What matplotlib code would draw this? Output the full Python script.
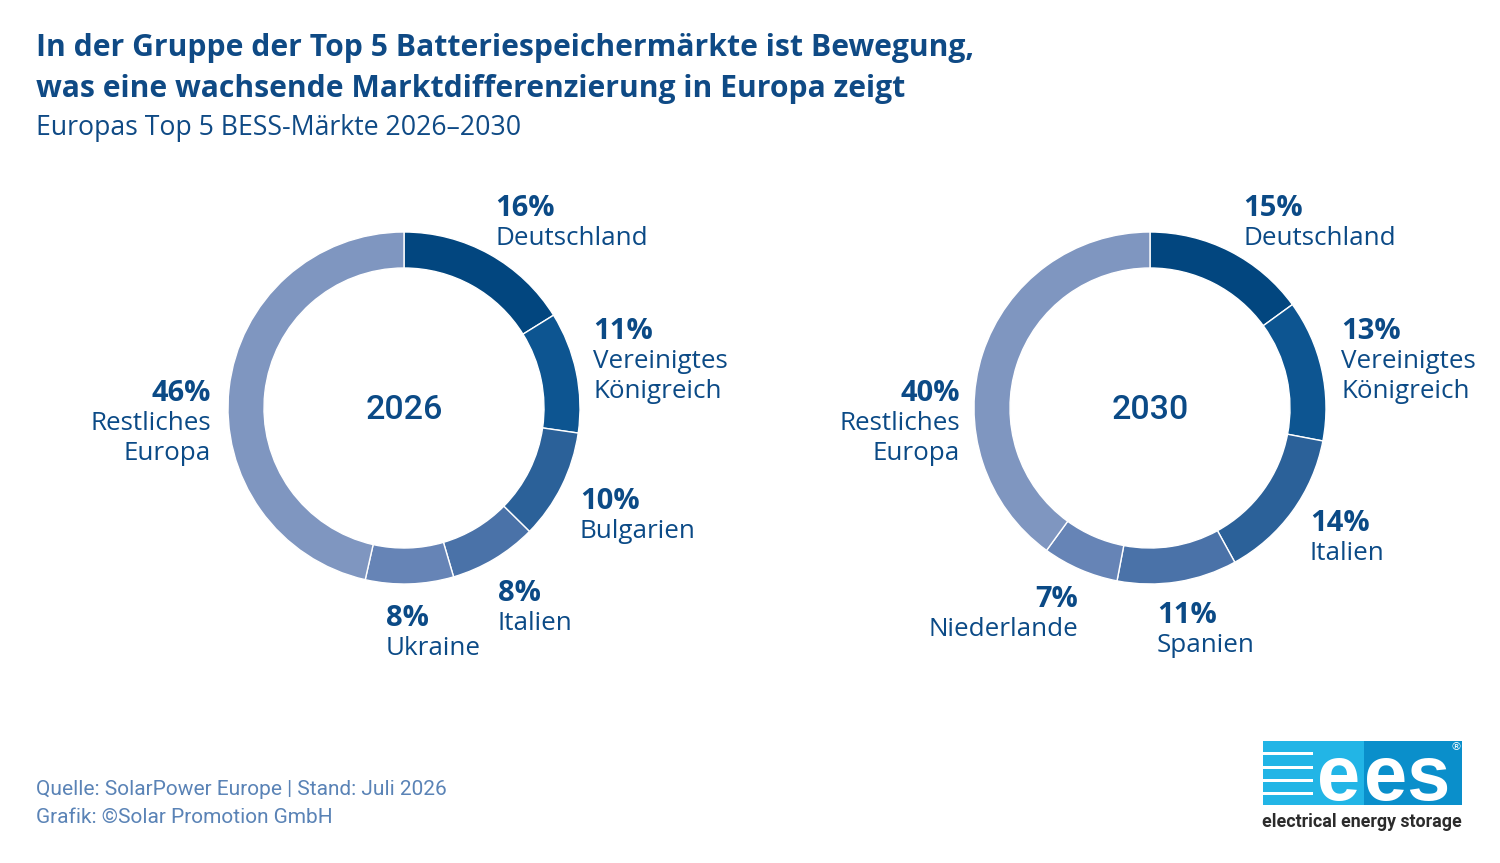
import matplotlib
matplotlib.use("Agg")
import matplotlib.pyplot as plt
from matplotlib.patches import Rectangle

# ---------------- data ----------------
markets_2026 = ["Deutschland", "Vereinigtes\nKönigreich", "Bulgarien", "Italien", "Ukraine", "Restliches\nEuropa"]
shares_2026 = [16, 11, 10, 8, 8, 46]
markets_2030 = ["Deutschland", "Vereinigtes\nKönigreich", "Italien", "Spanien", "Niederlande", "Restliches\nEuropa"]
shares_2030 = [15, 13, 14, 11, 7, 40]
years = ["2026", "2030"]

title_lines = ["In der Gruppe der Top 5 Batteriespeichermärkte ist Bewegung,",
               "was eine wachsende Marktdifferenzierung in Europa zeigt"]
subtitle = "Europas Top 5 BESS-Märkte 2026–2030"
footer_lines = ["Quelle: SolarPower Europe | Stand: Juli 2026",
                "Grafik: ©Solar Promotion GmbH"]

# ---------------- style ----------------
W, H = 1500, 863
seg_colors = ["#02467f", "#0d5591", "#2b6199", "#4a72a8", "#6684b6", "#7f96c0"]
txt_color = "#0b4a86"
title_color = "#0f4a85"
foot_color = "#5a83b6"
FONT = "Open Sans"

# label anchor positions in pixels (x, y-center of percent line, ha)
label_pos_2026 = [(495, 205, "left"), (593, 328, "left"), (580, 498, "left"),
                  (498, 590, "left"), (386, 615, "left"), (211, 390, "right")]
label_pos_2030 = [(1243, 205, "left"), (1341, 328, "left"), (1310, 520, "left"),
                  (1157, 612, "left"), (1078, 596, "right"), (960, 390, "right")]
centers = [(404, 408), (1150, 408)]
R_OUT = 176
RING_W = 36

fig = plt.figure(figsize=(W / 100, H / 100), dpi=100)
fig.patch.set_facecolor("white")

# overlay axes in pixel coordinates for text
ov = fig.add_axes([0, 0, 1, 1], zorder=5)
ov.set_xlim(0, W)
ov.set_ylim(H, 0)
ov.axis("off")
ov.patch.set_alpha(0)

def donut(center, shares, year):
    cx, cy = center
    ax = fig.add_axes([(cx - R_OUT) / W, 1 - (cy + R_OUT) / H, 2 * R_OUT / W, 2 * R_OUT / H])
    ax.pie(shares, colors=seg_colors, startangle=90, counterclock=False, radius=1,
           wedgeprops=dict(width=RING_W / R_OUT, edgecolor="white", linewidth=1.0))
    ax.set_xlim(-1, 1)
    ax.set_ylim(-1, 1)
    ax.set_aspect("equal")
    ax.axis("off")
    ov.text(cx, cy + 11, year, ha="center", va="baseline", fontsize=24.5,
            fontweight="medium", color=txt_color, family="Roboto")

def labels(names, shares, positions):
    for name, val, (x, y, ha) in zip(names, shares, positions):
        ov.text(x, y + 11, f"{val}%", ha=ha, va="baseline", fontsize=21,
                fontweight="bold", color=txt_color, family=FONT)
        for i, line in enumerate(name.split("\n")):
            ov.text(x, y + 31 + 9 + 30 * i, line, ha=ha, va="baseline", fontsize=18.7,
                    color=txt_color, family=FONT)

donut(centers[0], shares_2026, years[0])
donut(centers[1], shares_2030, years[1])
labels(markets_2026, shares_2026, label_pos_2026)
labels(markets_2030, shares_2030, label_pos_2030)

# titles
ov.text(36, 56, title_lines[0], ha="left", va="baseline", fontsize=21.7,
        fontweight="bold", color=title_color, family=FONT)
ov.text(36, 97, title_lines[1], ha="left", va="baseline", fontsize=21.7,
        fontweight="bold", color=title_color, family=FONT)
ov.text(36, 135, subtitle, ha="left", va="baseline", fontsize=19.2,
        color=title_color, family=FONT)

# footer
ov.text(36, 795, footer_lines[0], ha="left", va="baseline", fontsize=15,
        fontweight="normal", color=foot_color, family="Roboto")
ov.text(36, 823, footer_lines[1], ha="left", va="baseline", fontsize=15,
        fontweight="normal", color=foot_color, family="Roboto")

# logo
ov.add_patch(Rectangle((1263, 741), 101, 64, facecolor="#22b5e6", edgecolor="none"))
ov.add_patch(Rectangle((1364, 741), 98, 64, facecolor="#0a8fcb", edgecolor="none"))
for sy in [752, 766, 779, 792]:
    ov.add_patch(Rectangle((1263, sy), 50, 3, facecolor="white", edgecolor="none"))
ov.text(1339, 800, "e", ha="center", va="baseline", fontsize=56, fontweight="bold",
        color="white", family="Liberation Sans")
ov.text(1450, 800, "es", ha="right", va="baseline", fontsize=56, fontweight="bold",
        color="white", family="Liberation Sans")
ov.text(1451, 747, "®", ha="left", va="center", fontsize=8, color="white",
        family="DejaVu Sans")
ov.text(1362, 827, "electrical energy storage", ha="center", va="baseline", fontsize=12.8,
        fontweight="bold", color="#2b2b2b", family="Roboto")

fig.savefig("out.png", dpi=100, facecolor="white")
